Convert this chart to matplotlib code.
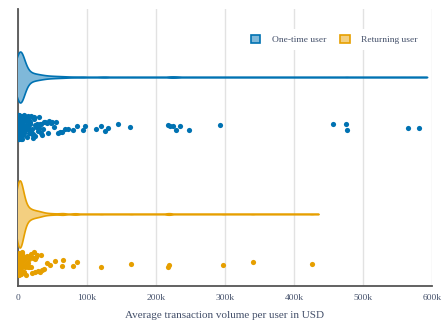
#
# Violin + jittered strip of average transaction volume per user,
# one-time vs returning users
#

import numpy as np
import matplotlib.pyplot as plt

# average transaction volume per user (thousand USD)
one_time_k = [
    0.1, 0.1, 0.1, 0.2, 0.2, 0.2, 0.3, 0.3, 0.3, 0.3, 0.4, 0.4, 0.4, 0.5, 0.5,
    0.5, 0.5, 0.6, 0.6, 0.6, 0.7, 0.7, 0.7, 0.8, 0.8, 0.8, 0.9, 0.9, 0.9, 1.0,
    1.0, 1.0, 1.1, 1.1, 1.1, 1.2, 1.2, 1.2, 1.3, 1.3, 1.3, 1.4, 1.4, 1.4, 1.5,
    1.5, 1.5, 1.6, 1.6, 1.6, 1.7, 1.7, 1.8, 1.8, 1.8, 1.9, 1.9, 2.0, 2.0, 2.0,
    2.1, 2.1, 2.2, 2.2, 2.2, 2.3, 2.3, 2.4, 2.4, 2.5, 2.5, 2.5, 2.6, 2.6, 2.7,
    2.7, 2.8, 2.8, 2.9, 2.9, 3.0, 3.0, 3.0, 3.1, 3.1, 3.2, 3.2, 3.3, 3.3, 3.4,
    3.4, 3.5, 3.5, 3.6, 3.6, 3.7, 3.7, 3.8, 3.8, 3.9, 3.9, 4.0, 4.0, 4.1, 4.1,
    4.2, 4.2, 4.3, 4.4, 4.4, 4.5, 4.5, 4.6, 4.7, 4.8, 4.8, 4.9, 4.9,
    5.0, 5.2, 5.4, 5.6, 5.8, 6.0, 6.2, 6.4, 6.6, 6.9, 7.1, 7.4, 7.6, 7.9, 8.2,
    8.5, 8.8, 9.1, 9.4, 9.8, 10.1, 10.5, 10.9, 11.3, 11.7, 12.1, 12.6, 13.0,
    13.5, 14.0, 14.5, 15.0, 15.6, 16.1, 16.7, 17.3, 17.9, 18.5, 19.2, 19.9,
    20.6, 21.3, 22.0, 22.8, 23.6, 24.4, 25.2, 26.1, 27.0, 27.9, 28.8, 29.8,
    30.8, 31.8, 32.9, 34.0, 35.1, 36.3,
    38.0, 39.8, 41.6, 43.5, 45.5, 47.6, 50.0, 52.5, 55.0, 58.0, 61.0, 64.5,
    68.0, 72.6, 79.9, 85.7, 94.4, 97.3, 113.0, 120.6, 126.4, 130.8, 145.3,
    162.7, 218.0, 220.8, 225.2, 229.5, 235.4, 248.4, 293.5, 456.0, 475.0,
    477.5, 565.0, 581.0,
]
returning_k = [
    0.1, 0.1, 0.1, 0.2, 0.2, 0.2, 0.3, 0.3, 0.3, 0.4, 0.4, 0.4, 0.5, 0.5, 0.5,
    0.6, 0.6, 0.6, 0.7, 0.7, 0.7, 0.8, 0.8, 0.8, 0.9, 0.9, 1.0, 1.0, 1.0, 1.1,
    1.1, 1.2, 1.2, 1.2, 1.3, 1.3, 1.4, 1.4, 1.5, 1.5, 1.6, 1.6, 1.7, 1.7, 1.8,
    1.8, 1.9, 1.9, 2.0, 2.0, 2.1, 2.1, 2.2, 2.3, 2.3, 2.4, 2.5, 2.5, 2.6, 2.7,
    2.8, 2.9, 3.0, 3.0, 3.1, 3.2, 3.3, 3.4, 3.5, 3.6, 3.7, 3.8, 3.9, 4.1, 4.2,
    4.3, 4.5, 4.6, 4.8, 4.9,
    5.0, 5.3, 5.6, 5.9, 6.2, 6.6, 7.0, 7.4, 7.8, 8.2, 8.7, 9.2, 9.7, 10.2,
    10.8, 11.4, 12.0, 12.7, 13.4, 14.1, 14.9, 15.7, 16.6, 17.5, 18.4, 19.4,
    20.5, 21.6, 22.8, 24.0, 25.3, 26.7, 28.1, 29.6, 31.2, 32.9, 34.7,
    37.2, 42.0, 46.5, 53.8, 64.0, 65.4, 80.0, 85.7, 120.6, 164.0, 218.0,
    219.4, 297.8, 340.0, 425.7,
]

groups = ["One-time user", "Returning user"]
colors = ["#0072B2", "#E69F00"]
fills = ["#7fb8d9", "#f3cf80"]
rows = [1.0, 0.0]
peak_half = [0.186, 0.245]
bandwidth = [6000.0, 5000.0]

TEXT = "#44506a"


def kde_span(x, bw):
    # Gaussian KDE spanning min-2bw .. max+2bw, normalised to peak 1
    grid = np.linspace(x.min() - 2 * bw, x.max() + 2 * bw, 4000)
    dens = np.exp(-0.5 * ((grid[:, None] - x[None, :]) / bw) ** 2).sum(axis=1)
    return grid, dens / dens.max()


def jitter_scale(x, window=15000.0):
    # spread points by how crowded their neighbourhood is
    counts = (np.abs(x[:, None] - x[None, :]) < window).sum(axis=1)
    return np.clip(np.sqrt(counts / counts.max()) * 2.0, 0.3, 1.0)


def main():
    plt.rcParams["font.family"] = ["Liberation Serif", "DejaVu Serif"]

    fig = plt.figure(figsize=(4.43, 3.22), dpi=100)
    ax = fig.add_axes([0.0406, 0.1118, 0.9345, 0.860])

    rng = np.random.default_rng(7)
    data = [np.array(one_time_k) * 1000, np.array(returning_k) * 1000]

    for vals, name, col, fc, y0, hw, bw in zip(data, groups, colors, fills,
                                               rows, peak_half, bandwidth):
        grid, dens = kde_span(vals, bw)
        half = hw * dens
        ax.fill_between(grid, y0 - half, y0 + half, facecolor=fc,
                        edgecolor=col, linewidth=1.2, zorder=3, label=name)

        jitter = rng.uniform(-0.088, 0.088, len(vals)) * jitter_scale(vals)
        ax.scatter(vals, y0 - 0.365 + jitter, s=14, color=col,
                   linewidths=0, zorder=3)

    ax.set_xlim(0, 600000)
    ax.set_ylim(-0.526, 1.496)
    ax.set_yticks([])
    ax.set_xticks(np.arange(0, 600001, 100000))
    ax.set_xticklabels(["0", "100k", "200k", "300k", "400k", "500k", "600k"])
    ax.tick_params(axis="x", length=0, pad=6, labelsize=6.8, labelcolor=TEXT)
    ax.grid(axis="x", color="#e2e2e2", linewidth=1.0, zorder=0)
    ax.set_axisbelow(True)

    for side in ["top", "right"]:
        ax.spines[side].set_visible(False)
    for side in ["left", "bottom"]:
        ax.spines[side].set_color("#555555")
        ax.spines[side].set_linewidth(1.3)

    ax.set_xlabel("Average transaction volume per user in USD", fontsize=8,
                  color=TEXT, labelpad=6)

    leg = ax.legend(loc="upper right", bbox_to_anchor=(0.99, 0.945), ncol=2,
                    frameon=True, fontsize=6.8, handlelength=1.0,
                    handleheight=1.0, handletextpad=1.2, columnspacing=1.5,
                    borderpad=0.6, labelcolor=TEXT)
    leg.get_frame().set_edgecolor("none")
    leg.get_frame().set_facecolor("white")
    leg.get_frame().set_alpha(1.0)

    fig.savefig("out.png", dpi=100)


if __name__ == "__main__":
    main()
